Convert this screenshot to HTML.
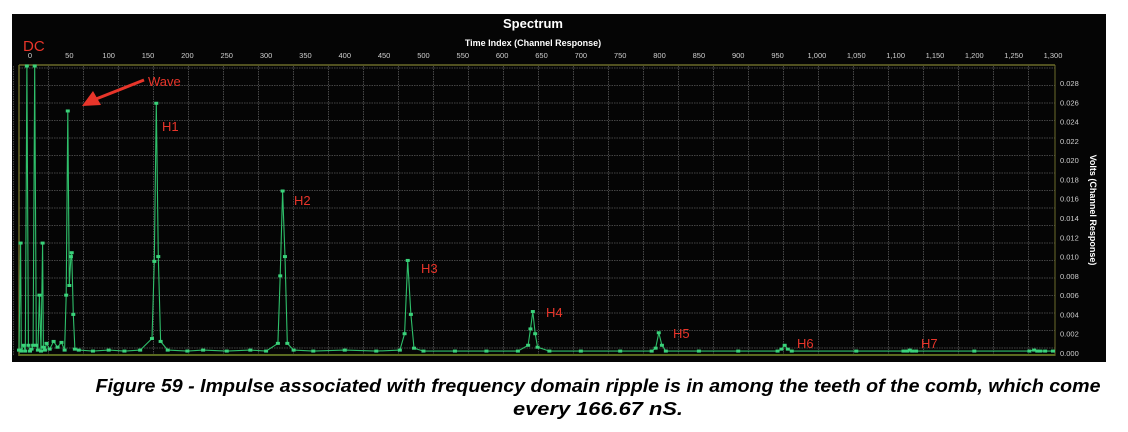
<!DOCTYPE html>
<html><head><meta charset="utf-8"><style>
html,body{margin:0;padding:0;background:#fff;width:1128px;height:432px;overflow:hidden}
svg text{font-family:"Liberation Sans",sans-serif}
</style></head><body>
<svg width="1128" height="432" xmlns="http://www.w3.org/2000/svg">
<rect x="12" y="14" width="1094" height="348" fill="#050505"/>
<text x="533" y="28" text-anchor="middle" fill="#fff" font-size="13" font-weight="bold">Spectrum</text>
<text x="533" y="46" text-anchor="middle" fill="#fff" font-size="9" font-weight="bold">Time Index (Channel Response)</text>
<g id="grid"></g>
<g id="xticks"></g>
<g id="yticks"></g>
<text transform="translate(1090,210) rotate(90)" text-anchor="middle" fill="#fff" font-size="9" font-weight="bold">Volts (Channel Response)</text>
<line x1="19" y1="65" x2="1055" y2="65" stroke="#6b6b2a" stroke-width="1.5"/>
<line x1="19" y1="65" x2="19" y2="356" stroke="#6b6b2a" stroke-width="1.5"/>
<line x1="1055" y1="65" x2="1055" y2="356" stroke="#6b6b2a" stroke-width="1"/>
<line x1="19" y1="355" x2="1055" y2="355" stroke="#5a6a20" stroke-width="2"/>
<g id="series"></g>
<g fill="#e8352a" font-size="14">
<text x="23" y="51" font-size="15">DC</text>
<text x="148" y="86" font-size="13">Wave</text>
<text x="162" y="131" font-size="13">H1</text>
<text x="294" y="205" font-size="13">H2</text>
<text x="421" y="273" font-size="13">H3</text>
<text x="546" y="317" font-size="13">H4</text>
<text x="673" y="338" font-size="13">H5</text>
<text x="797" y="348" font-size="13">H6</text>
<text x="921" y="348" font-size="13">H7</text>
</g>
<line x1="144" y1="80" x2="96" y2="99" stroke="#e8352a" stroke-width="3"/>
<polygon points="82,106 93,91 101,105" fill="#e8352a"/>
<text x="598" y="392" text-anchor="middle" font-size="18" font-weight="bold" font-style="italic" textLength="1005" lengthAdjust="spacingAndGlyphs" fill="#000">Figure 59 - Impulse associated with frequency domain ripple is in among the teeth of the comb, which come</text>
<text x="598" y="415" text-anchor="middle" font-size="18" font-weight="bold" font-style="italic" textLength="170" lengthAdjust="spacingAndGlyphs" fill="#000">every 166.67 nS.</text>
</svg>
<script>
const xTicks=[0,50,100,150,200,250,300,350,400,450,500,550,600,650,700,750,800,850,900,950,1000,1050,1100,1150,1200,1250,1300];
const yTicks=[0,0.002,0.004,0.006,0.008,0.010,0.012,0.014,0.016,0.018,0.020,0.022,0.024,0.026,0.028];
const seriesIdx=[-14,-12,-11,-8,-6,-4,-2,0,2,4,6,8,10,12,14,16,17,19,21,25,30,35,40,44,46,48,50,52,53,55,57,62,80,100,120,140,155,158,160.5,163,166,175,200,220,250,280,300,315,318,321,324,327,335,360,400,440,470,476,480,484,488,500,540,580,620,633,636,639,642,645,660,700,750,790,795,799,803,808,850,900,950,955,959,963,968,1050,1110,1115,1118,1121,1126,1200,1270,1276,1280,1284,1290,1300];
const seriesVal=[0.0003,0.0114,0.0002,0.0008,0.0002,0.0330,0.0008,0.0002,0.0004,0.0008,0.0330,0.0008,0.0003,0.0060,0.0002,0.0114,0.0006,0.0003,0.0010,0.0004,0.0012,0.0006,0.0011,0.0003,0.0060,0.0251,0.0070,0.0100,0.0104,0.0040,0.0004,0.0003,0.0002,0.0003,0.0002,0.0003,0.0015,0.0095,0.0259,0.0100,0.0012,0.0003,0.0002,0.0003,0.0002,0.0003,0.0002,0.0010,0.0080,0.0168,0.0100,0.0010,0.0003,0.0002,0.0003,0.0002,0.0003,0.0020,0.0096,0.0040,0.0005,0.0002,0.0002,0.0002,0.0002,0.0008,0.0025,0.0043,0.0020,0.0006,0.0002,0.0002,0.0002,0.0002,0.0005,0.0021,0.0008,0.0002,0.0002,0.0002,0.0002,0.0004,0.0008,0.0004,0.0002,0.0002,0.0002,0.0002,0.0003,0.0002,0.0002,0.0002,0.0002,0.0003,0.0002,0.0002,0.0002,0.0002];
const NS='http://www.w3.org/2000/svg';
const X0=30,XS=(1053-30)/1300,Y0=353,YT=83,YMAX=0.028;
function xs(v){return X0+v*XS;}
function ys(v){return Math.max(66,Y0-(v/YMAX)*(Y0-YT));}
function mk(tag,attrs,parent){const e=document.createElementNS(NS,tag);for(const k in attrs)e.setAttribute(k,attrs[k]);parent.appendChild(e);return e;}
const grid=document.getElementById('grid');
for(let gx=13.5;gx<1055;gx+=35){const l=mk('line',{x1:gx,y1:66,x2:gx,y2:355,stroke:'#5a5a5a','stroke-width':0.8,'stroke-dasharray':'1.5,1'},grid);

}
for(let gy=68;gy<355;gy+=17.5){const l=mk('line',{x1:19,y1:gy,x2:1055,y2:gy,stroke:'#5a5a5a','stroke-width':0.8,'stroke-dasharray':'1.5,1'},grid);

}
const xg=document.getElementById('xticks');
xTicks.forEach(t=>{const e=mk('text',{x:xs(t),y:58,'text-anchor':'middle',fill:'#cfcfcf','font-size':7.5},xg);e.textContent=t.toLocaleString('en-US');

});
const yg=document.getElementById('yticks');
yTicks.forEach(t=>{const e=mk('text',{x:1060,y:ys(t)+3,fill:'#cfcfcf','font-size':7.5},yg);e.textContent=t.toFixed(3);

});
const sg=document.getElementById('series');
const n=Math.min(seriesIdx.length,seriesVal.length);
const pts=seriesIdx.slice(0,n).map((v,i)=>xs(v).toFixed(1)+','+ys(seriesVal[i]).toFixed(1)).join(' ');
const pl=mk('polyline',{points:pts,fill:'none',stroke:'#2fbf6a','stroke-width':1.1},sg);


for(let i=0;i<n;i++){const c=mk('rect',{x:xs(seriesIdx[i])-2,y:ys(seriesVal[i])-1.5,width:4,height:3,fill:'#3ad27a'},sg);

}
</script>
</body></html>
